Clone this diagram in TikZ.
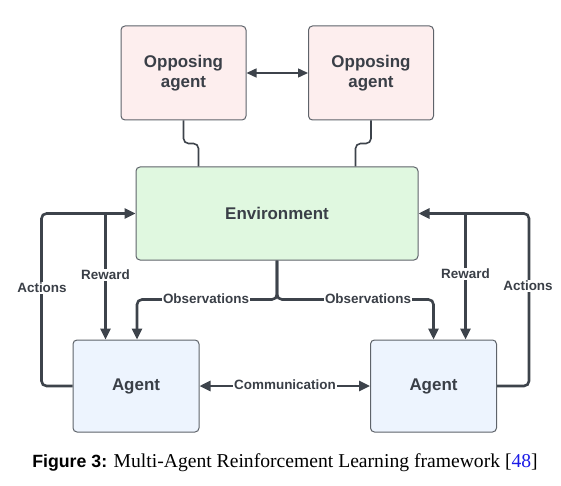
\documentclass[tikz,border=0pt]{standalone}
\usepackage{fontspec}
\setmainfont{Liberation Serif}
\setsansfont{Liberation Sans}
\usetikzlibrary{arrows.meta,calc}
\definecolor{linec}{HTML}{3D434B}
\definecolor{boxline}{HTML}{5E636A}
\definecolor{oppfill}{HTML}{FDEEEE}
\definecolor{envfill}{HTML}{E0F8E0}
\definecolor{agfill}{HTML}{EDF4FE}
\definecolor{txtc}{HTML}{3A3F47}
\definecolor{refblue}{HTML}{1A1AE6}
\tikzset{
  boxbase/.style={draw=boxline, line width=1bp, rounded corners=4bp, align=center,
    text=txtc, font=\sffamily\bfseries\fontsize{17}{20}\selectfont},
  oppbox/.style={boxbase, fill=oppfill, minimum width=125bp, minimum height=94bp},
  envbox/.style={boxbase, fill=envfill, minimum width=282bp, minimum height=93bp},
  agbox/.style={boxbase, fill=agfill, minimum width=126bp, minimum height=92bp},
  conn/.style={draw=linec, line width=2.6bp, rounded corners=5bp,
    -{Triangle[length=11bp,width=10bp]}},
  thinconn/.style={draw=linec, line width=1.6bp, rounded corners=5bp},
  twoway/.style={draw=linec, line width=2.6bp,
    {Triangle[length=11bp,width=10bp]}-{Triangle[length=11bp,width=10bp]}},
  thintwoway/.style={draw=linec, line width=1.4bp,
    {Triangle[length=10bp,width=9bp]}-{Triangle[length=10bp,width=9bp]}},
  lbl/.style={fill=white, inner sep=1bp, text=txtc,
    font=\sffamily\bfseries\fontsize{13.5}{15}\selectfont}
}
\begin{document}
\begin{tikzpicture}[x=1bp,y=-1bp]
\useasboundingbox (0,0) rectangle (561,486);
% boxes
\node[oppbox] (opp1) at (183.5,73) {Opposing\\agent};
\node[oppbox] (opp2) at (371,73) {Opposing\\agent};
\node[envbox] (env) at (277,213.5) {Environment};
\node[agbox] (ag1) at (136,386) {Agent};
\node[agbox] (ag2) at (433.5,386) {Agent};
% helper coordinates
\coordinate (e1) at ($(env.north west)+(63,0)$);
\coordinate (e2) at ($(env.north east)+(-63,0)$);
\coordinate (r1) at ($(env.west)+(-30,0)$);
\coordinate (r2) at ($(env.east)+(47,0)$);
\coordinate (obs) at ($(env.south)+(0,39)$);
% opposing agents
\draw[thintwoway] (opp1) -- (opp2);
\draw[thinconn] (opp1.south) -- ++(0,23) -| (e1);
\draw[thinconn] (opp2.south) -- ++(0,23) -| (e2);
% left side
\draw[conn] (ag1.west) -- ++(-31,0) |- (env.west);
\draw[conn] (r1) -- (r1 |- ag1.north);
\draw[conn] (env.south) |- (obs) -| ($(ag1.north)+(1,0)$);
% right side
\draw[conn] (ag2.east) -- ++(32,0) |- (env.east);
\draw[conn] (r2) -- (r2 |- ag2.north);
\draw[conn] (env.south) |- (obs) -| (ag2.north);
% communication
\draw[twoway] (ag1) -- (ag2);
% labels
\node[lbl] (la1) at (42,288) {Actions};
\node[lbl] (lr1) at (r1 |- 0,275) {Reward};
\node[lbl] (lo1) at (206,299) {Observations};
\node[lbl] (lo2) at (368,299) {Observations};
\node[lbl] (lr2) at (r2 |- 0,274) {Reward};
\node[lbl] (la2) at (528,286) {Actions};
\node[lbl] (lc) at (285,385) {Communication};
% caption
\node[inner sep=0pt, anchor=base, font=\fontsize{19.7}{22}\selectfont] (cap) at (285,467)
  {{\sffamily\bfseries\fontsize{17.8}{22}\selectfont Figure 3:} Multi-Agent Reinforcement Learning framework [\textcolor{refblue}{48}]};
\end{tikzpicture}
\end{document}
